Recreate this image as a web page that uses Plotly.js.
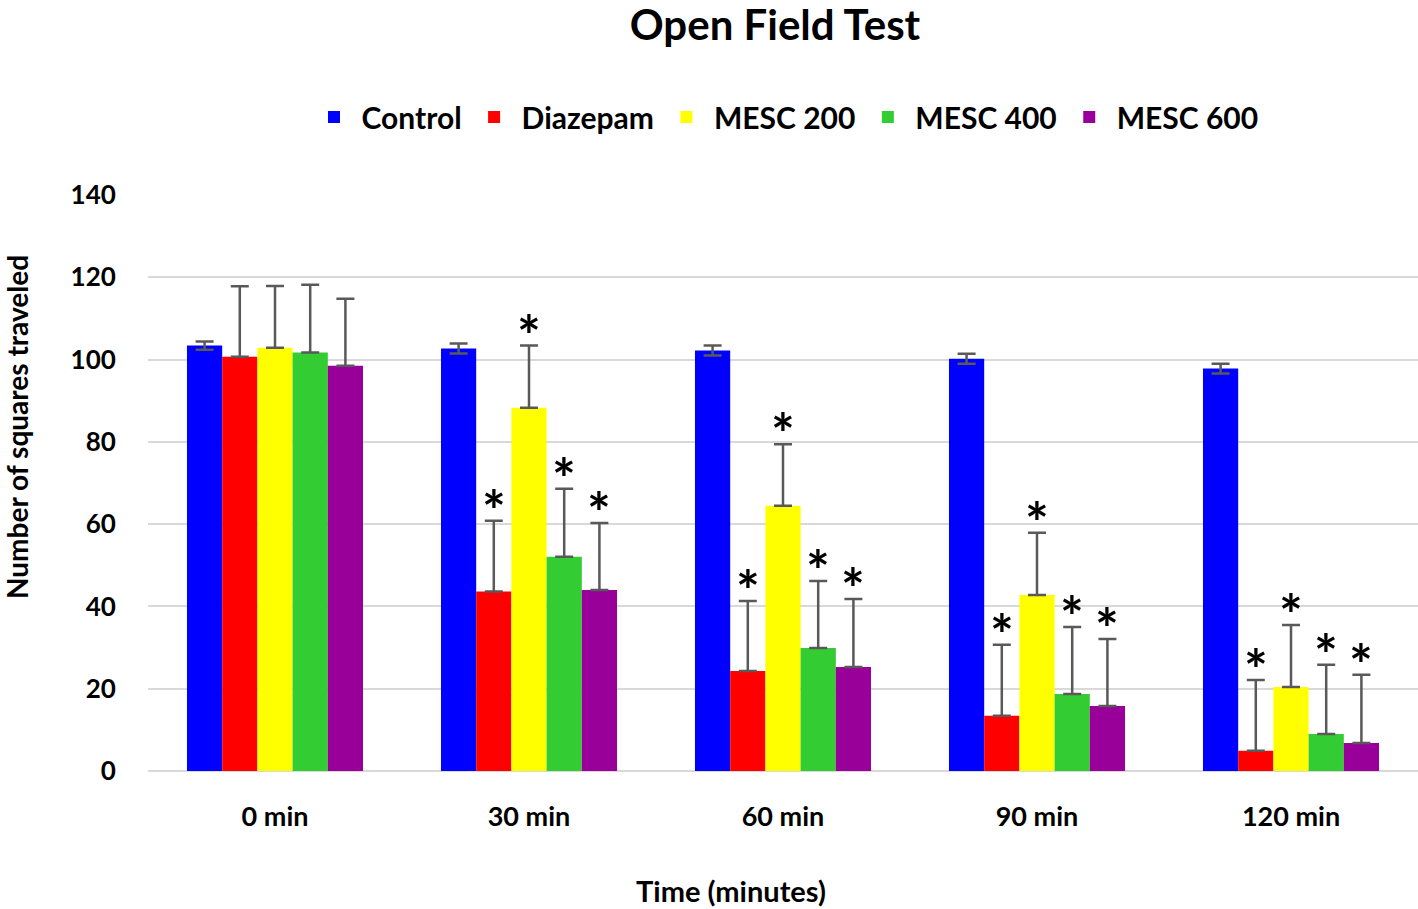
<!DOCTYPE html>
<html>
<head>
<meta charset="utf-8">
<script src="https://cdn.plot.ly/plotly-3.0.1.min.js"></script>
<style>html,body{margin:0;padding:0;background:#fff;}#chart{width:1418px;height:909px;}</style>
</head>
<body>
<div id="chart"></div>
<script>
const categories = ["0 min", "30 min", "60 min", "90 min", "120 min"];
const seriesNames = ["Control", "Diazepam", "MESC 200", "MESC 400", "MESC 600"];
const seriesColors = ["#0000ff", "#ff0000", "#ffff00", "#33cc33", "#990099"];

const control  = [103.4, 102.7, 102.2, 100.2, 97.8];
const diazepam = [100.7, 43.6, 24.3, 13.4, 4.9];
const mesc200  = [102.9, 88.3, 64.5, 42.8, 20.4];
const mesc400  = [101.7, 52.1, 29.9, 18.7, 9.0];
const mesc600  = [98.5, 44.0, 25.3, 15.8, 6.8];

const controlErr  = [1.0, 1.2, 1.2, 1.2, 1.2];
const diazepamErr = [17.1, 17.2, 17.0, 17.3, 17.2];
const mesc200Err  = [15.0, 15.1, 14.9, 15.1, 15.1];
const mesc400Err  = [16.5, 16.5, 16.3, 16.3, 16.8];
const mesc600Err  = [16.3, 16.3, 16.5, 16.3, 16.6];

// significance markers (true = asterisk shown)
const controlSig  = [false, false, false, false, false];
const diazepamSig = [false, true, true, true, true];
const mesc200Sig  = [false, true, true, true, true];
const mesc400Sig  = [false, true, true, true, true];
const mesc600Sig  = [false, true, true, true, true];

const values = [control, diazepam, mesc200, mesc400, mesc600];
const errors = [controlErr, diazepamErr, mesc200Err, mesc400Err, mesc600Err];
const sigs = [controlSig, diazepamSig, mesc200Sig, mesc400Sig, mesc600Sig];

const FONT = "Lato, 'Open Sans', sans-serif";
const bargap = 0.307;

const traces = seriesNames.map((name, i) => ({
  type: "bar",
  name: name,
  x: categories,
  y: values[i],
  marker: {color: seriesColors[i]},
  error_y: i === 0
    ? {type: "data", array: errors[i], symmetric: true, color: "#595959", thickness: 2.5, width: 9}
    : {type: "data", array: errors[i], arrayminus: errors[i].map(() => 0), symmetric: false, color: "#595959", thickness: 2.5, width: 9},
  hoverinfo: "x+y+name"
}));

const plotW = 1418 - 148;
const catW = plotW / categories.length;
const barW = catW * (1 - bargap) / seriesNames.length;

const annotations = [];
seriesNames.forEach((name, i) => {
  categories.forEach((c, j) => {
    if (sigs[i][j]) {
      annotations.push({
        x: c, y: values[i][j] + errors[i][j], xref: "x", yref: "y",
        text: "*", showarrow: false,
        xshift: (i - 2) * barW, yshift: -24,
        yanchor: "bottom",
        font: {family: FONT, size: 56, color: "#000", weight: "bold"}
      });
    }
  });
});

annotations.push({
  text: "Number of squares traveled", textangle: -90,
  xref: "paper", yref: "paper", x: (17 - 148) / plotW, y: (771 - 427) / 576,
  xanchor: "center", yanchor: "middle", showarrow: false,
  font: {family: FONT, size: 28, color: "#000", weight: "bold"}
});
annotations.push({
  text: "Time (minutes)",
  xref: "paper", yref: "paper", x: (731 - 148) / plotW, y: (771 - 890) / 576,
  xanchor: "center", yanchor: "middle", showarrow: false,
  font: {family: FONT, size: 29, color: "#000", weight: "bold"}
});

const layout = {
  width: 1418, height: 909,
  margin: {l: 148, r: 0, t: 195, b: 138},
  paper_bgcolor: "#fff", plot_bgcolor: "#fff",
  barmode: "group", bargap: bargap, bargroupgap: 0,
  title: {text: "Open Field Test", x: (775 - 148) / plotW, xref: "paper", xanchor: "center", y: 0.972, yanchor: "middle",
          font: {family: FONT, size: 42, color: "#000", weight: "bold"}},
  showlegend: true,
  legend: {orientation: "h", x: (785 - 148) / plotW, xanchor: "center", y: (771 - 117) / 576, yanchor: "middle",
           font: {family: FONT, size: 30, color: "#000", weight: "bold"}, traceorder: "normal", itemwidth: 45},
  xaxis: {type: "category", showgrid: false, showline: false, zeroline: false,
          ticks: "outside", ticklen: 22, tickcolor: "rgba(0,0,0,0)",
          tickfont: {family: FONT, size: 27, color: "#000", weight: "bold"}},
  yaxis: {range: [0, 140], dtick: 20, showgrid: true, gridcolor: "#d9d9d9", gridwidth: 2,
          zeroline: true, zerolinecolor: "#d9d9d9", zerolinewidth: 2, showline: false,
          ticks: "outside", ticklen: 26, tickcolor: "rgba(0,0,0,0)",
          tickfont: {family: FONT, size: 26, color: "#000", weight: "bold"}},
  annotations: annotations
};

Plotly.newPlot("chart", traces, layout, {displayModeBar: false, staticPlot: true});
</script>
</body>
</html>
